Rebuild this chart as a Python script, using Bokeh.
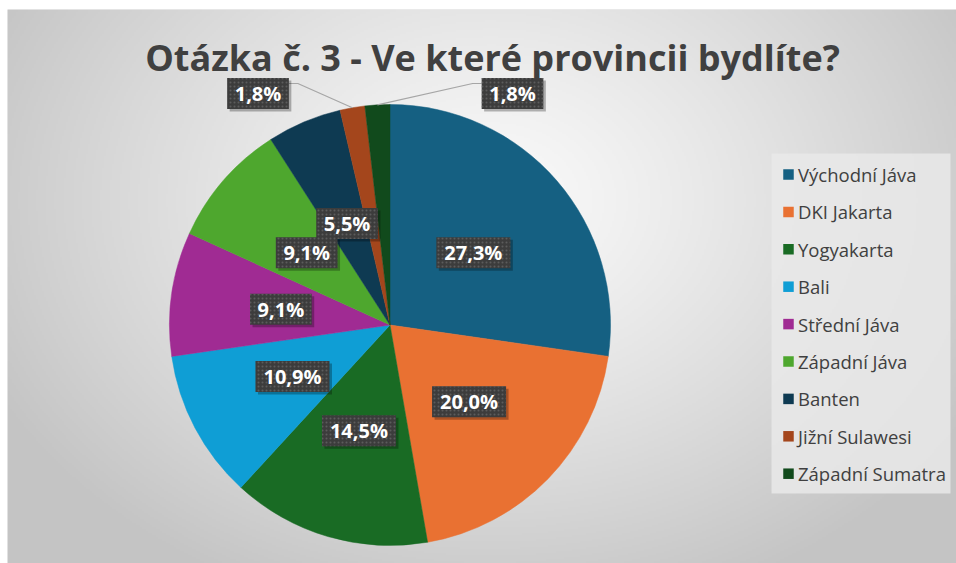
import numpy as np
from bokeh.plotting import figure
from bokeh.models import Range1d
from bokeh.embed import file_html
from bokeh.resources import INLINE
from bokeh.core.properties import value

# ---------------- data ----------------
title_text = "Otázka č. 3 - Ve které provincii bydlíte?"
provinces = ["Východní Jáva", "DKI Jakarta", "Yogyakarta", "Bali", "Střední Jáva",
             "Západní Jáva", "Banten", "Jižní Sulawesi", "Západní Sumatra"]
counts = [15, 11, 8, 6, 5, 5, 3, 1, 1]
colors = ["#156082", "#E97132", "#196B24", "#0F9ED5", "#A02B93",
          "#4EA72E", "#0E3A52", "#A4461C", "#114A1C"]

# ---------------- layout ----------------
W, H = 956, 563
LEFT, TOP = 7, 9


def to_data(px, py):
    """page pixel -> data coordinate (y up)"""
    return float(px), float(H - py)


CX, CY = to_data(389.5, 324.5)
R = 220.5
# labels placed outside the pie (offsets from centre, page px)
outer_offsets = {7: (-132.0, -231.5), 8: (122.5, -231.5)}

p = figure(width=W, height=H, output_backend="svg", toolbar_location=None,
           x_range=Range1d(LEFT, W), y_range=Range1d(0, H - TOP), min_border=0,
           min_border_left=LEFT, min_border_top=TOP,
           background_fill_color="#d8d8d8", border_fill_color="white")
p.axis.visible = False
p.grid.visible = False
p.outline_line_color = None

# ---------------- background radial gradient ----------------
fw, fh = W - LEFT, H - TOP
nx, ny = fw // 2, fh // 2
xs_px = LEFT + (np.arange(nx) + 0.5) * (fw / nx)
ys_data = (np.arange(ny) + 0.5) * (fh / ny)
ys_px = H - ys_data
XX, YY = np.meshgrid(xs_px, ys_px)
t = np.sqrt(((XX - 490.0) / 560.0) ** 2 + ((YY - 200.0) / 430.0) ** 2)
t = np.clip(t, 0, 1) ** 1.2
g = (250 - (250 - 196) * t).astype(np.uint32)
img = (255 << 24) | (g << 16) | (g << 8) | g
p.image_rgba(image=[img.astype(np.uint32)], x=LEFT, y=0, dw=fw, dh=fh)

# ---------------- pie ----------------
total = float(sum(counts))
fracs = [c / total for c in counts]
cum = np.concatenate([[0.0], np.cumsum(fracs)])
start = [np.pi / 2 - 2 * np.pi * cum[i] for i in range(len(counts))]
end = [np.pi / 2 - 2 * np.pi * cum[i + 1] for i in range(len(counts))]
p.wedge(x=CX, y=CY, radius=R, radius_units="screen", start_angle=start, end_angle=end,
        direction="clock", fill_color=colors, line_color=colors, line_width=0.5)

# ---------------- data labels ----------------
labels = [f"{f * 100:.1f}".replace(".", ",") + "%" for f in fracs]
lx, ly = [], []
for i, f in enumerate(fracs):
    mid = np.pi / 2 - 2 * np.pi * (cum[i] + f / 2)
    if i in outer_offsets:
        dx, dy = outer_offsets[i]
        lx.append(CX + dx)
        ly.append(CY - dy)
    else:
        lx.append(CX + 0.5 * R * np.cos(mid))
        ly.append(CY + 0.5 * R * np.sin(mid))
bw = [12.3 * len(s) + 12.5 for s in labels]
bh = 31

# leader lines for outer labels
for i in outer_offsets:
    mid = np.pi / 2 - 2 * np.pi * (cum[i] + fracs[i] / 2)
    ex, ey = CX + R * np.cos(mid), CY + R * np.sin(mid)
    if lx[i] < ex:
        bx = lx[i] + bw[i] / 2
        elbow = bx + 9
    else:
        bx = lx[i] - bw[i] / 2
        elbow = bx - 9
    yy = ly[i] + 10
    p.line([ex, elbow, bx], [ey, yy, yy], line_color="#a6a6a6", line_width=1.2)

p.rect(x=[x + 2.5 for x in lx], y=[y - 2.5 for y in ly], width=bw, height=bh,
       fill_color="black", fill_alpha=0.28, line_color=None)
p.rect(x=lx, y=ly, width=bw, height=bh, fill_color="#3c3c3c", line_color=None,
       hatch_pattern="dot", hatch_color="#5c5c5c", hatch_scale=4, hatch_weight=1)
p.text(x=lx, y=ly, text=labels, text_align="center", text_baseline="middle",
       text_color="white", text_font=value("Open Sans"), text_font_style="bold",
       text_font_size="20px")

# ---------------- title ----------------
tx, ty = to_data(492, 57)
p.text(x=[tx], y=[ty], text=[title_text], text_align="center", text_baseline="alphabetic",
       text_color="#404040", text_font=value("Open Sans"), text_font_style="bold",
       text_font_size="36px")

# ---------------- legend ----------------
lbx0, lby0 = to_data(771, 153)
lbx1, lby1 = to_data(950, 493)
p.rect(x=(lbx0 + lbx1) / 2, y=(lby0 + lby1) / 2, width=lbx1 - lbx0, height=lby0 - lby1,
       fill_color="#e9e9e9", fill_alpha=0.85, line_color=None)
sq_x, _ = to_data(788, 0)
tx0, _ = to_data(797.5, 0)
leg_y = [to_data(0, 174 + i * 37.4)[1] for i in range(len(provinces))]
p.rect(x=[sq_x] * len(provinces), y=leg_y, width=10.5, height=10.5,
       fill_color=colors, line_color=None)
p.text(x=[tx0] * len(provinces), y=leg_y, text=provinces, text_align="left",
       text_baseline="middle", text_color="#404040", text_font=value("Open Sans"),
       text_font_size="18.5px")

open("out.html", "w").write(file_html(p, INLINE))
